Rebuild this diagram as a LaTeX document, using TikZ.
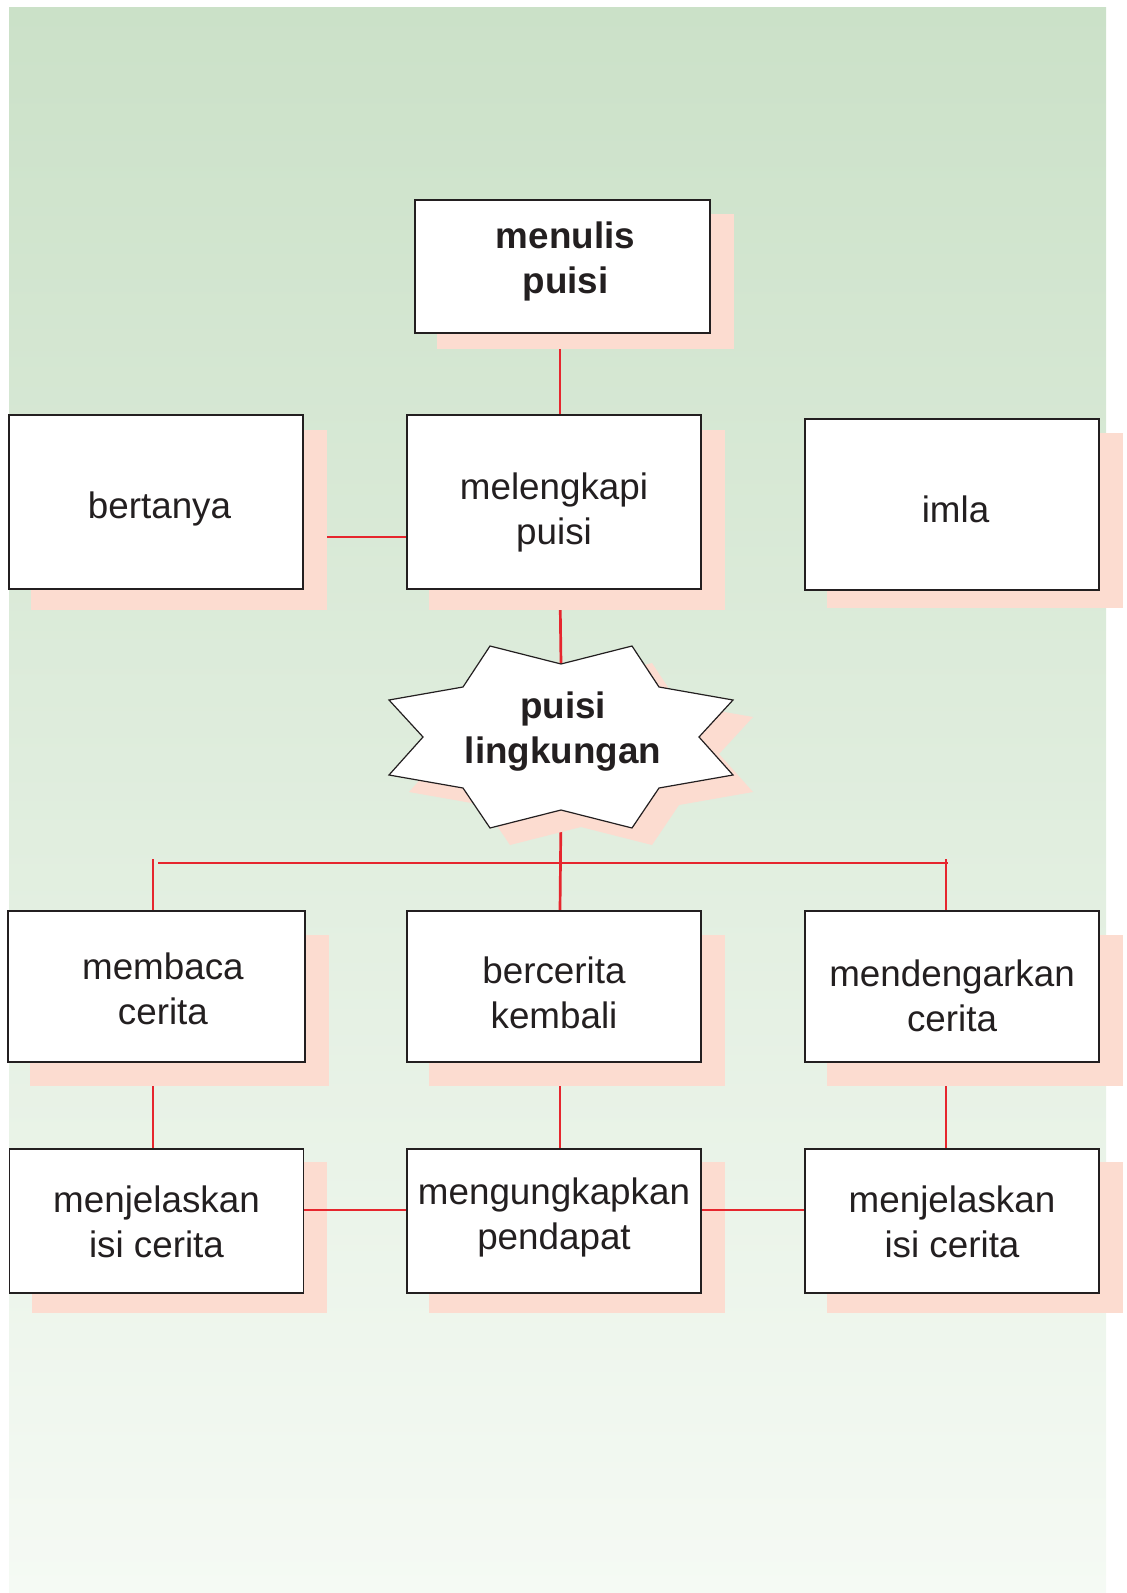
\documentclass[tikz,border=0pt]{standalone}
\usepackage{fontspec}
\setmainfont{Liberation Sans}
\usepackage{tikz}
\definecolor{bgtop}{HTML}{CBE1C8}
\definecolor{bgbot}{HTML}{F5FAF4}
\definecolor{salmon}{HTML}{FCDCD0}
\definecolor{linered}{HTML}{E6262E}
\definecolor{ink}{HTML}{231F20}
\pgfdeclarelayer{back}
\pgfdeclarelayer{lines}
\pgfdeclarelayer{shadows}
\pgfsetlayers{back,lines,shadows,main}

\begin{document}
\begin{tikzpicture}[x=0.5pt,y=-0.5pt]
\tikzstyle{box}=[draw=ink,line width=0.7pt,fill=white,rectangle,inner sep=0pt,minimum width=147pt];
\tikzstyle{txt}=[text=ink,align=center,inner sep=0pt,font=\fontsize{18.4}{22.5}\selectfont];
\tikzstyle{title}=[txt,font=\bfseries\fontsize{18.4}{22.5}\selectfont];
\tikzstyle{link}=[draw=linered,line width=1.35pt];
\tikzstyle{boxshadow}=[fill=salmon];
\tikzset{lkstar/.pic={
  \path[pic actions] (-71,-91) -- (0,-73) -- (71,-91) -- (98,-50) -- (172,-37) -- (138,0)
    -- (172,38) -- (98,51) -- (71,91) -- (0,73) -- (-71,91) -- (-98,51) -- (-172,38)
    -- (-138,0) -- (-172,-37) -- (-98,-50) -- cycle;}}
\useasboundingbox (0,0) rectangle (1126,1593);
\begin{pgfonlayer}{back}
  \shade[top color=bgtop,bottom color=bgbot] (9,8) rectangle (1106,1593);
\end{pgfonlayer}
% nodes
    \node[box,minimum width=147.5pt,minimum height=66.5pt,
      label={[title,name=menulisT,xshift=1.5pt,yshift=2.5pt]center:menulis\\puisi}] (menulis) at (562.5,266.5) {};
    \node[box,minimum height=87pt,
      label={[txt,name=bertanyaT,xshift=1.75pt,yshift=-3.5pt]center:bertanya}] (bertanya) at (156,502) {};
    \node[box,minimum height=87pt,
      label={[txt,name=melengkapiT,yshift=-5pt]center:melengkapi\\puisi}] (melengkapi) at (554,502) {};
    \node[box,minimum height=85.5pt,
      label={[txt,name=imlaT,xshift=1.75pt,yshift=-2.5pt]center:imla}] (imla) at (952,504.5) {};
    \node[box,minimum width=148.5pt,minimum height=75.5pt,
      label={[txt,name=membacaT,xshift=3.25pt,yshift=-1pt]center:membaca\\cerita}] (membaca) at (156.4,986.5) {};
    \node[box,minimum height=75.5pt,
      label={[txt,name=berceritaT,yshift=-3pt]center:bercerita\\kembali}] (bercerita) at (554,986.5) {};
    \node[box,minimum height=75.5pt,
      label={[txt,name=mendengarkanT,yshift=-4.5pt]center:mendengarkan\\cerita}] (mendengarkan) at (952,986.5) {};
    \node[box,minimum height=72pt,
      label={[txt,name=menjelaskanAT,yshift=-0.5pt]center:menjelaskan\\isi cerita}] (menjelaskanA) at (156.5,1221) {};
    \node[box,minimum height=72pt,
      label={[txt,name=mengungkapkanT,yshift=2pt]center:mengungkapkan\\pendapat}] (mengungkapkan) at (554,1221) {};
    \node[box,minimum height=72pt,
      label={[txt,name=menjelaskanBT,yshift=-0.5pt]center:menjelaskan\\isi cerita}] (menjelaskanB) at (952,1221) {};
%   star
    \coordinate (lk) at (561,737);
    \coordinate (lktop) at (561,664);
    \coordinate (lkbot) at (561,810);
    \pic[fill=white,draw=ink,line width=0.6pt] at (lk) {lkstar};
    \node[title] (lingkungan) at (563,731.5) {puisi\\lingkungan};
%   shadows
\begin{pgfonlayer}{shadows}
    \foreach \n/\t/\b in {menulis/15/15,bertanya/16/20,melengkapi/16/20,imla/15/17,
        membaca/25/23,bercerita/25/23,mendengarkan/25/23,
        menjelaskanA/14/19,mengungkapkan/14/19,menjelaskanB/14/19}
      \fill[boxshadow] ([shift={(23,\t)}]\n.north west) rectangle ([shift={(23,\b)}]\n.south east);
    \pic[boxshadow] at (581,754) {lkstar};
    \draw[link] ([yshift=5.5pt]menjelaskanA.east) -- ([yshift=5.5pt]mengungkapkan.west);
    \draw[link] ([yshift=5.5pt]mengungkapkan.east) -- ([yshift=5.5pt]menjelaskanB.west);
\end{pgfonlayer}
% edges
\begin{pgfonlayer}{lines}
    \coordinate (spine) at (560,0);
    \coordinate (bl) at (153,859);
    \coordinate (br) at (946,859);
    \coordinate (hl) at (158,863);
    \coordinate (hr) at (948,863);
    \draw[link] (spine |- menulis.south) -- (spine |- melengkapi.north);
    \draw[link] ([yshift=-17.5pt]bertanya.east) -- ([yshift=-17.5pt]melengkapi.west);
    \draw[link] (spine |- melengkapi.south) -- (lktop);
    \draw[link] (lkbot) -- (spine |- bercerita.north);
    \draw[link] (hl) -- (hr);
    \draw[link] (bl) -- (bl |- membaca.north);
    \draw[link] (br) -- (br |- mendengarkan.north);
    \draw[link] (bl |- membaca.south) -- (bl |- menjelaskanA.north);
    \draw[link] (spine |- bercerita.south) -- (spine |- mengungkapkan.north);
    \draw[link] (br |- mendengarkan.south) -- (br |- menjelaskanB.north);
\end{pgfonlayer}
\end{tikzpicture}
\end{document}
